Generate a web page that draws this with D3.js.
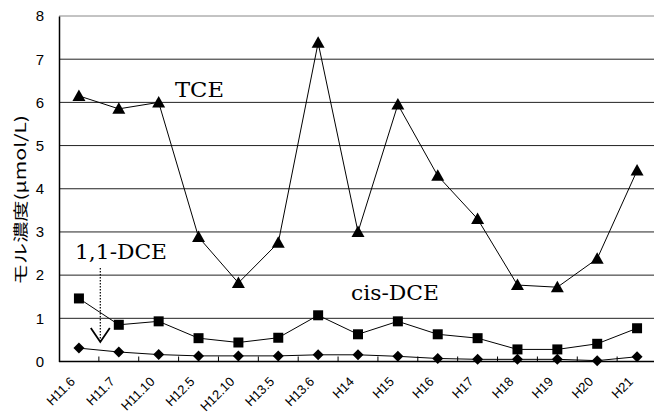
<!DOCTYPE html>
<html><head><meta charset="utf-8">
<script src="https://cdn.jsdelivr.net/npm/d3@7"></script>
<style>html,body{margin:0;padding:0;background:#fff}svg{display:block}</style>
</head><body>
<script>
const categories = ["H11.6","H11.7","H11.10","H12.5","H12.10","H13.5","H13.6","H14","H15","H16","H17","H18","H19","H20","H21"];
const tce    = [6.15,5.85,6.0,2.88,1.82,2.75,7.38,3.0,5.95,4.3,3.3,1.77,1.72,2.38,4.42];
const cisDce = [1.46,0.85,0.93,0.54,0.44,0.55,1.07,0.63,0.93,0.63,0.54,0.28,0.28,0.41,0.77];
const dce11  = [0.31,0.22,0.16,0.13,0.13,0.13,0.155,0.155,0.12,0.07,0.05,0.05,0.05,0.02,0.11];
const yTicks = [0,1,2,3,4,5,6,7,8];

(function(){
const W=654,H=414;
const mLeft=59,mRight=657,mTop=16,mBottom=361.5;
const svg=d3.select("body").append("svg").attr("width",W).attr("height",H);
const x=d3.scaleBand().domain(categories).range([mLeft,mRight]);
const y=d3.scaleLinear().domain([0,8]).range([mBottom,mTop]);
const cx=d=>x(d)+x.bandwidth()/2;

// gridlines
svg.append("g").selectAll("line").data(yTicks.filter(t=>t>0)).join("line")
  .attr("x1",mLeft).attr("x2",W).attr("y1",d=>y(d)).attr("y2",d=>y(d))
  .attr("stroke",d=>d===8?"#888":"#222").attr("stroke-width",1);

// y axis
const ya=svg.append("g").attr("transform",`translate(${mLeft},0)`)
  .call(d3.axisLeft(y).tickValues(yTicks).tickSize(0).tickPadding(15).tickFormat(d3.format("d")));
ya.select(".domain").attr("stroke","#000").attr("stroke-width",1.5);
ya.selectAll("text").attr("font-family","Liberation Sans, Arial, sans-serif").attr("font-size",15).attr("fill","#000");

// x axis
svg.append("line").attr("x1",mLeft).attr("x2",W).attr("y1",mBottom).attr("y2",mBottom).attr("stroke","#000").attr("stroke-width",1.5);
svg.append("g").selectAll("line").data(categories.slice(1)).join("line")
  .attr("x1",d=>x(d)).attr("x2",d=>x(d)).attr("y1",mBottom).attr("y2",mBottom-5)
  .attr("stroke","#000").attr("stroke-width",1);

svg.append("g").selectAll("text").data(categories).join("text")
  .attr("transform",d=>`translate(${cx(d)-10},${mBottom+14}) rotate(-45)`)
  .attr("text-anchor","end").attr("dy","0.75em")
  .attr("font-family","Liberation Sans, Arial, sans-serif").attr("font-size",13).attr("fill","#000")
  .text(d=>d);

// y title
svg.append("text").attr("transform",`translate(26,200) rotate(-90)`)
  .attr("text-anchor","middle").attr("font-family","Noto Sans CJK JP, sans-serif").attr("font-size",15)
  .attr("textLength",170).attr("lengthAdjust","spacingAndGlyphs").attr("fill","#000")
  .text("モル濃度(μmol/L)");

const line=d3.line().x((d,i)=>cx(categories[i])).y(d=>y(d));
function drawSeries(vals,shape){
  svg.append("path").datum(vals).attr("d",line).attr("fill","none").attr("stroke","#000").attr("stroke-width",1);
  const g=svg.append("g");
  vals.forEach((v,i)=>{
    const px=cx(categories[i]),py=y(v);
    let p;
    if(shape==="tri") p=`M${px},${py-6.5}L${px+6.5},${py+5}L${px-6.5},${py+5}Z`;
    else if(shape==="sq") p=`M${px-5},${py-5}h10v10h-10Z`;
    else p=`M${px},${py-5.5}L${px+5.5},${py}L${px},${py+5.5}L${px-5.5},${py}Z`;
    g.append("path").attr("d",p).attr("fill","#000");
  });
}
drawSeries(dce11,"dia");
drawSeries(cisDce,"sq");
drawSeries(tce,"tri");

// annotations
const serif="DejaVu Serif, Liberation Serif, serif";
svg.append("text").attr("x",175).attr("y",96.5).attr("font-family",serif).attr("font-size",21)
  .attr("textLength",49).attr("lengthAdjust","spacingAndGlyphs").text("TCE");
svg.append("text").attr("x",75).attr("y",259).attr("font-family",serif).attr("font-size",19.5)
  .attr("textLength",92).attr("lengthAdjust","spacingAndGlyphs").text("1,1-DCE");
svg.append("text").attr("x",351).attr("y",300).attr("font-family",serif).attr("font-size",19.5)
  .attr("textLength",88).attr("lengthAdjust","spacingAndGlyphs").text("cis-DCE");

// dotted arrow
const ax=cx(categories[1])-18.5;
svg.append("line").attr("x1",ax).attr("x2",ax).attr("y1",268).attr("y2",341)
  .attr("stroke","#000").attr("stroke-width",1.2).attr("stroke-dasharray","1.5,1.5");
svg.append("path").attr("d",`M${ax-9.5},${328}L${ax},${342}L${ax+9.5},${328}`)
  .attr("fill","none").attr("stroke","#000").attr("stroke-width",1.8);
})();
</script>
</body></html>
